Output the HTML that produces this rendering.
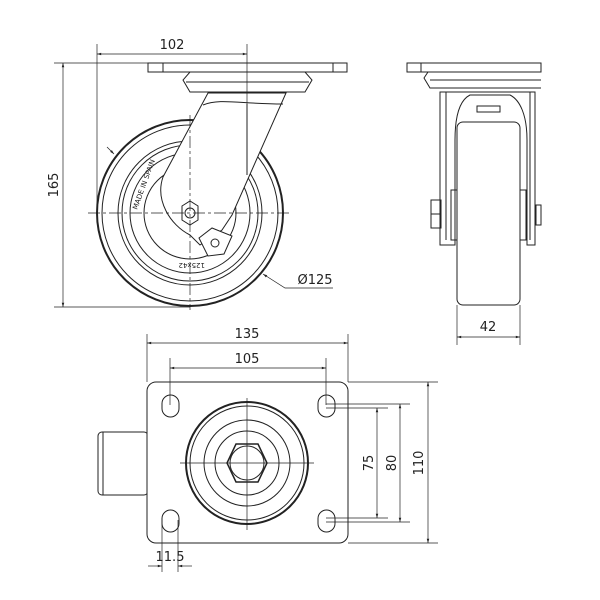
<!DOCTYPE html>
<html><head><style>body{margin:0;background:#fff}svg{display:block}text{font-family:"DejaVu Sans","Liberation Sans",sans-serif;fill:#222}</style></head><body>
<svg width="600" height="600" viewBox="0 0 600 600" xmlns="http://www.w3.org/2000/svg">
<defs><marker id="a" viewBox="0 0 10 10" refX="10" refY="5" markerWidth="8" markerHeight="6" orient="auto-start-reverse"><path d="M0,2 L10,5 L0,8 z" fill="#222"/></marker></defs>
<g fill="none" stroke="#222" stroke-width="1">
<!-- FRONT VIEW -->
<rect x="148" y="63" width="199" height="9"/>
<line x1="163" y1="63" x2="163" y2="72"/><line x1="333" y1="63" x2="333" y2="72"/>
<path d="M190,72 L305,72 L312,80 L305,92 L190,92 L183,80 Z"/>
<line x1="186" y1="82" x2="309" y2="82"/>
<!-- wheel -->
<circle cx="190" cy="213" r="93" stroke-width="2"/>
<circle cx="190" cy="213" r="88"/>
<circle cx="190" cy="213" r="72"/>
<circle cx="190" cy="213" r="68"/>
<circle cx="190" cy="213" r="60"/>
<circle cx="190" cy="213" r="46"/>
<!-- fork -->
<path d="M208,93 L286,93 L232,215 L222,230 L200,245 L190,235 C170,225 155,200 163,177 Z" fill="#fff"/>
<path d="M203,105 C220,98 240,104 283,104"/>
<line x1="247" y1="104" x2="247" y2="175"/>
<path d="M199,238 L212,228 L232,236 L224,254 L208,256 Z" fill="#fff"/>
<circle cx="215" cy="243" r="4"/>
<polygon points="182,206 190,201 198,206 198,220 190,225 182,220" fill="#fff"/>
<circle cx="190" cy="213" r="5"/>
<!-- centerlines -->
<line x1="88" y1="213" x2="292" y2="213" stroke-dasharray="12,3,3,3" stroke-width="0.7"/>
<line x1="190" y1="115" x2="190" y2="310" stroke-dasharray="12,3,3,3" stroke-width="0.7"/>
<!-- dims front -->
<line x1="97" y1="44" x2="97" y2="213" stroke-width="0.7"/>
<line x1="247" y1="44" x2="247" y2="104" stroke-width="0.7"/>
<line x1="97" y1="54" x2="247" y2="54" stroke-width="0.7" marker-start="url(#a)" marker-end="url(#a)"/>
<line x1="54" y1="63" x2="148" y2="63" stroke-width="0.7"/>
<line x1="54" y1="307" x2="190" y2="307" stroke-width="0.7"/>
<line x1="63" y1="63" x2="63" y2="307" stroke-width="0.7" marker-start="url(#a)" marker-end="url(#a)"/>
<line x1="107" y1="147" x2="114" y2="154" stroke-width="0.7" marker-end="url(#a)"/>
<polyline points="333,288 285,288 263,274" stroke-width="0.7" marker-end="url(#a)"/>
<!-- SIDE VIEW -->
<rect x="407" y="63" width="134" height="9"/>
<line x1="421" y1="63" x2="421" y2="72"/>
<path d="M428,72 L541,72 M428,72 L424,78 L430,88 L541,88 M430,80 L541,80"/>
<path d="M440,92 L440,245 L455,245 L455,140 C455,115 460,100 470,95 L510,95 C520,100 527,115 527,140 L527,245 L535,245 L535,92 Z"/>
<path d="M446,92 L446,240 M530,92 L530,240"/>
<rect x="457" y="122" width="63" height="183" rx="6" fill="#fff"/>
<rect x="451" y="190" width="6" height="50"/><rect x="520" y="190" width="6" height="50"/>
<rect x="431" y="200" width="10" height="28"/>
<line x1="431" y1="214" x2="441" y2="214"/>
<rect x="536" y="205" width="5" height="20"/>
<path d="M477,106 L500,106 L500,112 L477,112 Z"/>
<line x1="457" y1="305" x2="457" y2="345" stroke-width="0.7"/>
<line x1="520" y1="305" x2="520" y2="345" stroke-width="0.7"/>
<line x1="457" y1="337" x2="520" y2="337" stroke-width="0.7" marker-start="url(#a)" marker-end="url(#a)"/>
<!-- BOTTOM VIEW -->
<rect x="98" y="432" width="50" height="63" rx="4"/>
<line x1="103" y1="432" x2="103" y2="495"/>
<rect x="147" y="382" width="201" height="161" rx="9" fill="#fff"/>
<rect x="162" y="395" width="17" height="22" rx="8.5"/>
<rect x="318" y="395" width="17" height="22" rx="8.5"/>
<rect x="162" y="510" width="17" height="22" rx="8.5"/>
<rect x="318" y="510" width="17" height="22" rx="8.5"/>
<circle cx="247" cy="463" r="61" stroke-width="2"/>
<circle cx="247" cy="463" r="57"/>
<circle cx="247" cy="463" r="43"/>
<circle cx="247" cy="463" r="32"/>
<polygon points="236,444 258,444 267,463 258,482 236,482 227,463" stroke-width="1.5"/>
<circle cx="247" cy="463" r="17"/>
<line x1="180" y1="463" x2="314" y2="463" stroke-width="0.7"/>
<line x1="247" y1="398" x2="247" y2="530" stroke-width="0.7"/>
<!-- bottom dims -->
<line x1="147" y1="334" x2="147" y2="382" stroke-width="0.7"/>
<line x1="348" y1="334" x2="348" y2="382" stroke-width="0.7"/>
<line x1="147" y1="343" x2="348" y2="343" stroke-width="0.7" marker-start="url(#a)" marker-end="url(#a)"/>
<line x1="170" y1="358" x2="170" y2="405" stroke-width="0.7"/>
<line x1="326" y1="358" x2="326" y2="405" stroke-width="0.7"/>
<line x1="170" y1="368" x2="326" y2="368" stroke-width="0.7" marker-start="url(#a)" marker-end="url(#a)"/>
<line x1="348" y1="382" x2="438" y2="382" stroke-width="0.7"/>
<line x1="348" y1="543" x2="438" y2="543" stroke-width="0.7"/>
<line x1="428" y1="382" x2="428" y2="543" stroke-width="0.7" marker-start="url(#a)" marker-end="url(#a)"/>
<line x1="326" y1="404" x2="410" y2="404" stroke-width="0.7"/>
<line x1="326" y1="522" x2="410" y2="522" stroke-width="0.7"/>
<line x1="400" y1="404" x2="400" y2="522" stroke-width="0.7" marker-start="url(#a)" marker-end="url(#a)"/>
<line x1="326" y1="408" x2="388" y2="408" stroke-width="0.7"/>
<line x1="326" y1="518" x2="388" y2="518" stroke-width="0.7"/>
<line x1="377" y1="408" x2="377" y2="518" stroke-width="0.7" marker-start="url(#a)" marker-end="url(#a)"/>
<line x1="162" y1="520" x2="162" y2="572" stroke-width="0.7"/>
<line x1="178" y1="520" x2="178" y2="572" stroke-width="0.7"/>
<line x1="148" y1="566" x2="162" y2="566" stroke-width="0.7" marker-end="url(#a)"/>
<line x1="192" y1="566" x2="178" y2="566" stroke-width="0.7" marker-end="url(#a)"/>
</g>
<g font-size="13">
<text x="172" y="49" text-anchor="middle">102</text>
<text transform="translate(58,185) rotate(-90)" text-anchor="middle">165</text>
<text x="315" y="284" text-anchor="middle">Ø125</text>
<text x="488" y="331" text-anchor="middle">42</text>
<text x="247" y="338" text-anchor="middle">135</text>
<text x="247" y="363" text-anchor="middle">105</text>
<text transform="translate(373,463) rotate(-90)" text-anchor="middle">75</text>
<text transform="translate(396,463) rotate(-90)" text-anchor="middle">80</text>
<text transform="translate(423,463) rotate(-90)" text-anchor="middle">110</text>
<text x="170" y="561" text-anchor="middle">11.5</text>
</g>
<g font-size="7">
<text transform="translate(137,210) rotate(-70)">MADE IN SPAIN</text>
<text transform="translate(205,263) rotate(180)">125x42</text>
</g>
</svg>
</body></html>
